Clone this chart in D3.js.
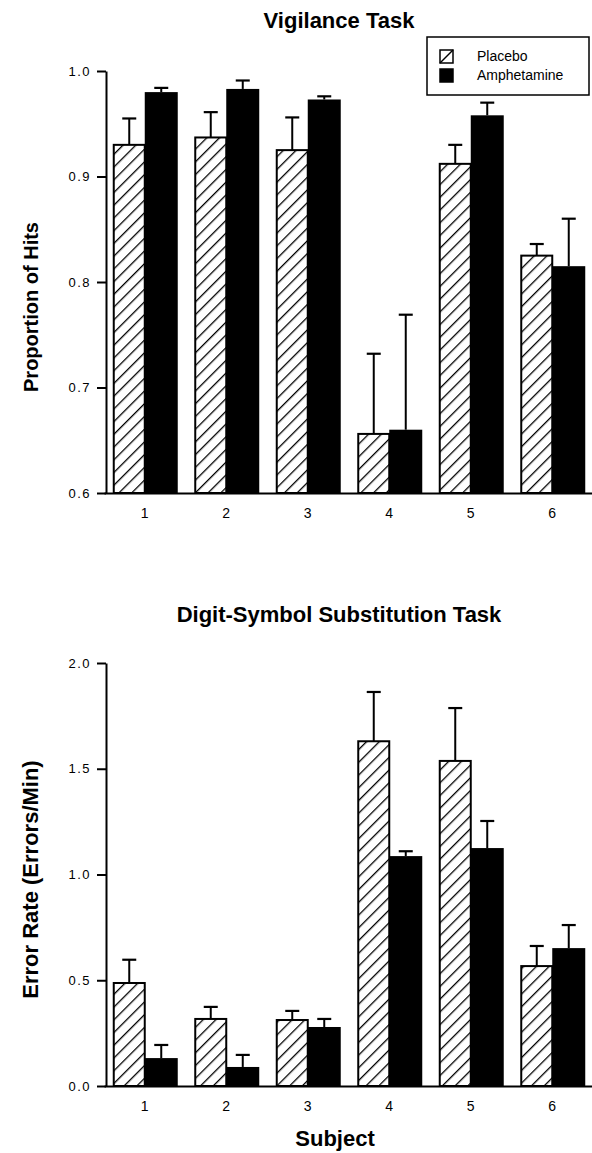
<!DOCTYPE html>
<html>
<head>
<meta charset="utf-8">
<script src="https://cdn.jsdelivr.net/npm/d3@7/dist/d3.min.js"></script>
<style>
    body { margin: 0; background: #fff; }
    svg { display: block; font-family: "Liberation Sans", Arial, sans-serif; }
</style>
</head>
<body>
<div id="chart"></div>
<script>
var subjects = [1, 2, 3, 4, 5, 6];

// vigilance task, proportion of hits (mean and upper error)
var vigPlacebo = [0.930, 0.937, 0.925, 0.656, 0.912, 0.825];
var vigPlaceboErr = [0.025, 0.024, 0.031, 0.076, 0.018, 0.011];
var vigAmph = [0.980, 0.983, 0.973, 0.660, 0.958, 0.815];
var vigAmphErr = [0.004, 0.008, 0.003, 0.109, 0.012, 0.045];
var vigTicks = [0.6, 0.7, 0.8, 0.9, 1.0];

// digit-symbol substitution task, errors per minute
var dssPlacebo = [0.487, 0.317, 0.312, 1.630, 1.537, 0.567];
var dssPlaceboErr = [0.110, 0.057, 0.043, 0.233, 0.250, 0.095];
var dssAmph = [0.132, 0.090, 0.279, 1.087, 1.125, 0.652];
var dssAmphErr = [0.062, 0.057, 0.038, 0.023, 0.128, 0.109];
var dssTicks = [0.0, 0.5, 1.0, 1.5, 2.0];

var seriesNames = ["Placebo", "Amphetamine"];

var width = 592,
    height = 1153,
    axisX = 106,
    barW = 31;

var svg = d3.select("#chart").append("svg")
    .attr("width", width)
    .attr("height", height);

// hatch for the placebo bars
svg.append("defs").append("pattern")
    .attr("id", "hatch")
    .attr("patternUnits", "userSpaceOnUse")
    .attr("width", 9)
    .attr("height", 9)
    .attr("patternTransform", "rotate(45)")
    .append("line")
    .attr("x1", 0).attr("y1", 0)
    .attr("x2", 0).attr("y2", 9)
    .attr("stroke", "#000")
    .attr("stroke-width", 2.6);

var x = d3.scaleBand().domain(subjects).range([104, 593]);

function drawPanel(opt) {
    var y = d3.scaleLinear().domain(opt.domain).range([opt.bottom, opt.top]);
    var g = svg.append("g");

    var groups = g.selectAll("g.subject")
        .data(subjects.map(function (s, i) { return { s: s, i: i }; }))
        .enter().append("g")
        .attr("class", "subject");

    var centre = function (d) { return x(d.s) + x.bandwidth() / 2; };

    // placebo bars
    groups.append("rect")
        .attr("x", function (d) { return centre(d) - barW; })
        .attr("y", function (d) { return y(opt.placebo[d.i]); })
        .attr("width", barW)
        .attr("height", function (d) { return y(opt.domain[0]) - y(opt.placebo[d.i]); })
        .attr("fill", "url(#hatch)")
        .attr("stroke", "#000")
        .attr("stroke-width", 2);

    // amphetamine bars
    groups.append("rect")
        .attr("x", function (d) { return centre(d); })
        .attr("y", function (d) { return y(opt.amph[d.i]); })
        .attr("width", barW + 2)
        .attr("height", function (d) { return y(opt.domain[0]) - y(opt.amph[d.i]); })
        .attr("fill", "#000");

    // error bars (upper only)
    [[opt.placebo, opt.placeboErr, -barW / 2], [opt.amph, opt.amphErr, barW / 2 + 1]].forEach(function (s) {
        groups.append("line")
            .attr("x1", function (d) { return centre(d) + s[2]; })
            .attr("x2", function (d) { return centre(d) + s[2]; })
            .attr("y1", function (d) { return y(s[0][d.i]); })
            .attr("y2", function (d) { return y(s[0][d.i] + s[1][d.i]); })
            .attr("stroke", "#000")
            .attr("stroke-width", 2);
        groups.append("line")
            .attr("x1", function (d) { return centre(d) + s[2] - 7; })
            .attr("x2", function (d) { return centre(d) + s[2] + 7; })
            .attr("y1", function (d) { return y(s[0][d.i] + s[1][d.i]); })
            .attr("y2", function (d) { return y(s[0][d.i] + s[1][d.i]); })
            .attr("stroke", "#000")
            .attr("stroke-width", 2.2);
    });

    var yAxis = g.append("g")
        .attr("transform", "translate(" + axisX + ",0)")
        .call(d3.axisLeft(y).tickValues(opt.ticks).tickSize(9).tickSizeOuter(0).tickPadding(6)
            .tickFormat(d3.format(".1f")));
    yAxis.selectAll("path, line").attr("stroke-width", 2);
    yAxis.selectAll("text").attr("font-size", 13).attr("letter-spacing", 1.5).attr("fill", "#000");

    var xAxis = g.append("g")
        .attr("transform", "translate(0," + opt.bottom + ")")
        .call(d3.axisBottom(x).tickSize(0).tickPadding(15));
    xAxis.select("path").attr("stroke-width", 2);
    xAxis.selectAll("text").attr("font-size", 14).attr("fill", "#000");

    g.append("text")
        .attr("x", 339)
        .attr("y", opt.titleY)
        .attr("text-anchor", "middle")
        .attr("dominant-baseline", "middle")
        .attr("font-weight", "bold")
        .attr("font-size", 22)
        .text(opt.title);

    g.append("text")
        .attr("transform", "translate(" + opt.labelX + "," + ((opt.top + opt.bottom) / 2 + opt.labelShift) + ") rotate(-90)")
        .attr("text-anchor", "middle")
        .attr("dominant-baseline", "middle")
        .attr("font-weight", "bold")
        .attr("font-size", opt.labelSize)
        .text(opt.label);
}

drawPanel({
    domain: [0.6, 1.0], top: 71, bottom: 493, ticks: vigTicks,
    placebo: vigPlacebo, placeboErr: vigPlaceboErr, amph: vigAmph, amphErr: vigAmphErr,
    title: "Vigilance Task", titleY: 22,
    label: "Proportion of Hits", labelX: 33, labelShift: 25, labelSize: 20
});

drawPanel({
    domain: [0, 2.0], top: 663, bottom: 1086, ticks: dssTicks,
    placebo: dssPlacebo, placeboErr: dssPlaceboErr, amph: dssAmph, amphErr: dssAmphErr,
    title: "Digit-Symbol Substitution Task", titleY: 616,
    label: "Error Rate (Errors/Min)", labelX: 32, labelShift: 5, labelSize: 22
});

svg.append("text")
    .attr("x", 335)
    .attr("y", 1140)
    .attr("text-anchor", "middle")
    .attr("dominant-baseline", "middle")
    .attr("font-weight", "bold")
    .attr("font-size", 22)
    .text("Subject");

// legend
var legend = svg.append("g").attr("transform", "translate(427,37)");
legend.append("rect")
    .attr("width", 162).attr("height", 58)
    .attr("fill", "#fff").attr("stroke", "#000").attr("stroke-width", 1.5);

var items = legend.selectAll("g.item")
    .data(seriesNames)
    .enter().append("g")
    .attr("class", "item")
    .attr("transform", function (d, i) { return "translate(13," + (13 + i * 19) + ")"; });

items.append("rect")
    .attr("width", 13).attr("height", 13)
    .attr("fill", function (d, i) { return i ? "#000" : "#fff"; })
    .attr("stroke", "#000").attr("stroke-width", 1.5);
items.filter(function (d, i) { return i === 0; }).append("line")
    .attr("x1", 0).attr("y1", 13).attr("x2", 13).attr("y2", 0)
    .attr("stroke", "#000").attr("stroke-width", 1.5);
items.append("text")
    .attr("x", 37).attr("y", 7)
    .attr("dominant-baseline", "middle")
    .attr("font-size", 14)
    .text(function (d) { return d; });
</script>
</body>
</html>
